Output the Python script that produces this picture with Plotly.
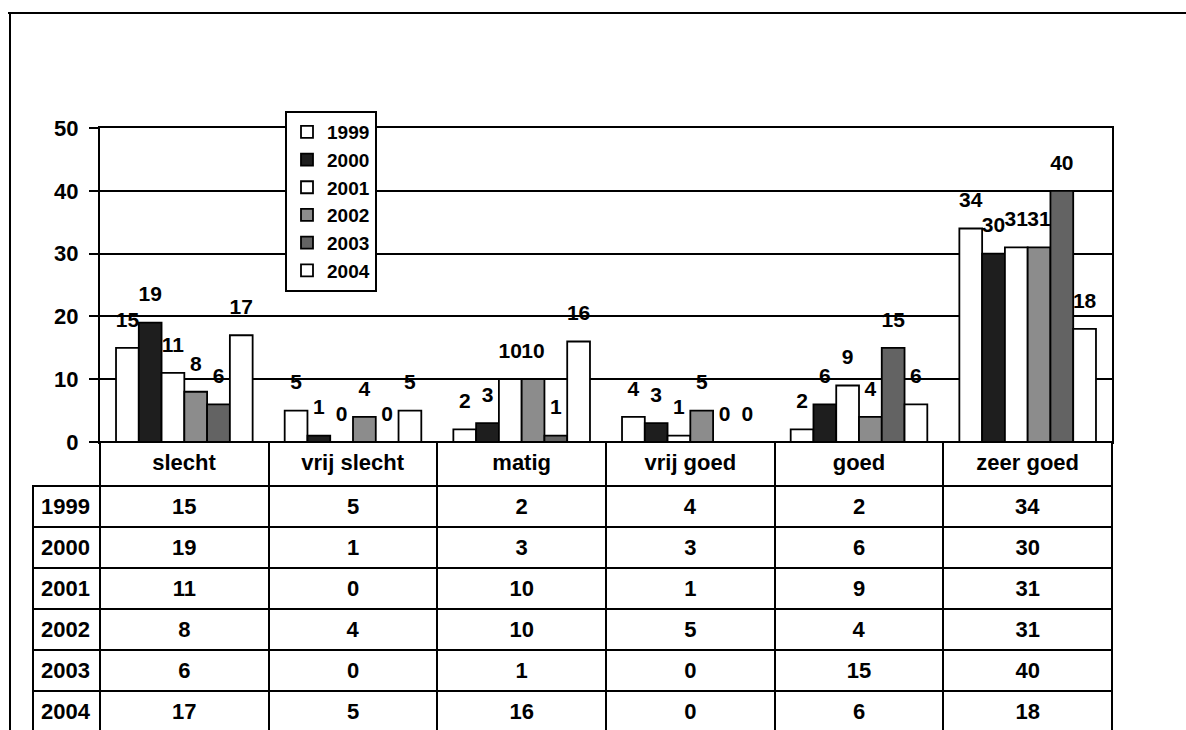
import plotly.graph_objects as go

categories = ["slecht", "vrij slecht", "matig", "vrij goed", "goed", "zeer goed"]
years = ["1999", "2000", "2001", "2002", "2003", "2004"]
v1999 = [15, 5, 2, 4, 2, 34]
v2000 = [19, 1, 3, 3, 6, 30]
v2001 = [11, 0, 10, 1, 9, 31]
v2002 = [8, 4, 10, 5, 4, 31]
v2003 = [6, 0, 1, 0, 15, 40]
v2004 = [17, 5, 16, 0, 6, 18]
series = [v1999, v2000, v2001, v2002, v2003, v2004]
colors = ["#ffffff", "#1e1e1e", "#ffffff", "#8c8c8c", "#636363", "#ffffff"]
yticks = [0, 10, 20, 30, 40, 50]

FONT = "Liberation Sans, Arial, sans-serif"
W, H = 1186, 730

fig = go.Figure()
for yr, vals, col in zip(years, series, colors):
    fig.add_trace(go.Bar(
        x=categories, y=vals, name="<b>%s</b>" % yr,
        marker=dict(color=col, line=dict(color="black", width=1.8)),
        xaxis="x", yaxis="y",
    ))
for yr, vals in zip(years, series):
    fig.add_trace(go.Scatter(
        x=categories, y=vals, mode="markers+text", orientation="v",
        text=["<b>%d</b>" % v for v in vals], textposition="top center",
        textfont=dict(family=FONT, size=21, color="black"),
        marker=dict(size=24, color="rgba(0,0,0,0)"),
        showlegend=False, hoverinfo="skip", cliponaxis=False,
        xaxis="x", yaxis="y",
    ))

# table
cell_cols = [["<b>%s</b>" % y for y in years]]
for ci in range(len(categories)):
    cell_cols.append(["<b>%d</b>" % s[ci] for s in series])

plot_l, plot_r = 100, 1112
plot_b, plot_t = 442, 128
tab_l = 33
colw = (plot_r - plot_l) / len(categories)
n = len(categories)

fig.add_trace(go.Table(
    domain=dict(x=[tab_l / W, plot_r / W], y=[0, (H - plot_b) / H]),
    columnwidth=[plot_l - tab_l] + [colw] * n,
    header=dict(
        values=[""] + ["<b>%s</b>" % c for c in categories],
        height=44, align="center",
        line=dict(color=["rgba(0,0,0,0)"] + ["black"] * n, width=2),
        fill=dict(color=["rgba(0,0,0,0)"] + ["white"] * n),
        font=dict(family=FONT, size=22, color="black"),
    ),
    cells=dict(
        values=cell_cols, height=40.5,
        align=["left"] + ["center"] * n,
        line=dict(color="black", width=2),
        fill=dict(color="white"),
        font=dict(family=FONT, size=22, color="black"),
    ),
))

fig.update_layout(
    width=W, height=H,
    margin=dict(l=0, r=0, t=0, b=0, autoexpand=False),
    paper_bgcolor="white", plot_bgcolor="white",
    barmode="group", bargap=0.19, bargroupgap=0,
    scattermode="group", scattergap=0.19,
    font=dict(family=FONT, color="black"),
    xaxis=dict(
        domain=[plot_l / W, plot_r / W], showticklabels=False, ticks="",
        showgrid=False, showline=True, linecolor="black", linewidth=2,
        mirror=True, zeroline=False, automargin=False,
    ),
    yaxis=dict(
        domain=[(H - plot_b) / H, (H - plot_t) / H], range=[0, 50],
        tickvals=yticks, ticktext=["<b>%d</b>" % t for t in yticks],
        tickfont=dict(family=FONT, size=22, color="black"),
        ticks="outside", ticklen=9, tickwidth=2, tickcolor="black",
        ticklabelstandoff=6,
        showgrid=True, gridcolor="black", gridwidth=1.5,
        showline=True, linecolor="black", linewidth=2, mirror=True,
        zeroline=False, automargin=False,
    ),
    legend=dict(
        x=285 / W, y=(H - 111) / H, xanchor="left", yanchor="top",
        bgcolor="white", bordercolor="black", borderwidth=2,
        font=dict(family=FONT, size=19, color="black"),
        tracegroupgap=0, itemwidth=30,
    ),
    shapes=[
        dict(type="line", xref="paper", yref="paper", x0=8 / W, x1=1.01,
             y0=(H - 13) / H, y1=(H - 13) / H, line=dict(color="black", width=2)),
        dict(type="line", xref="paper", yref="paper", x0=10 / W, x1=10 / W,
             y0=-0.01, y1=(H - 13) / H, line=dict(color="black", width=2)),
    ],
    showlegend=True,
)

fig.write_html("out.html", config={"displayModeBar": False},
               post_script="document.body.style.margin='0';")
